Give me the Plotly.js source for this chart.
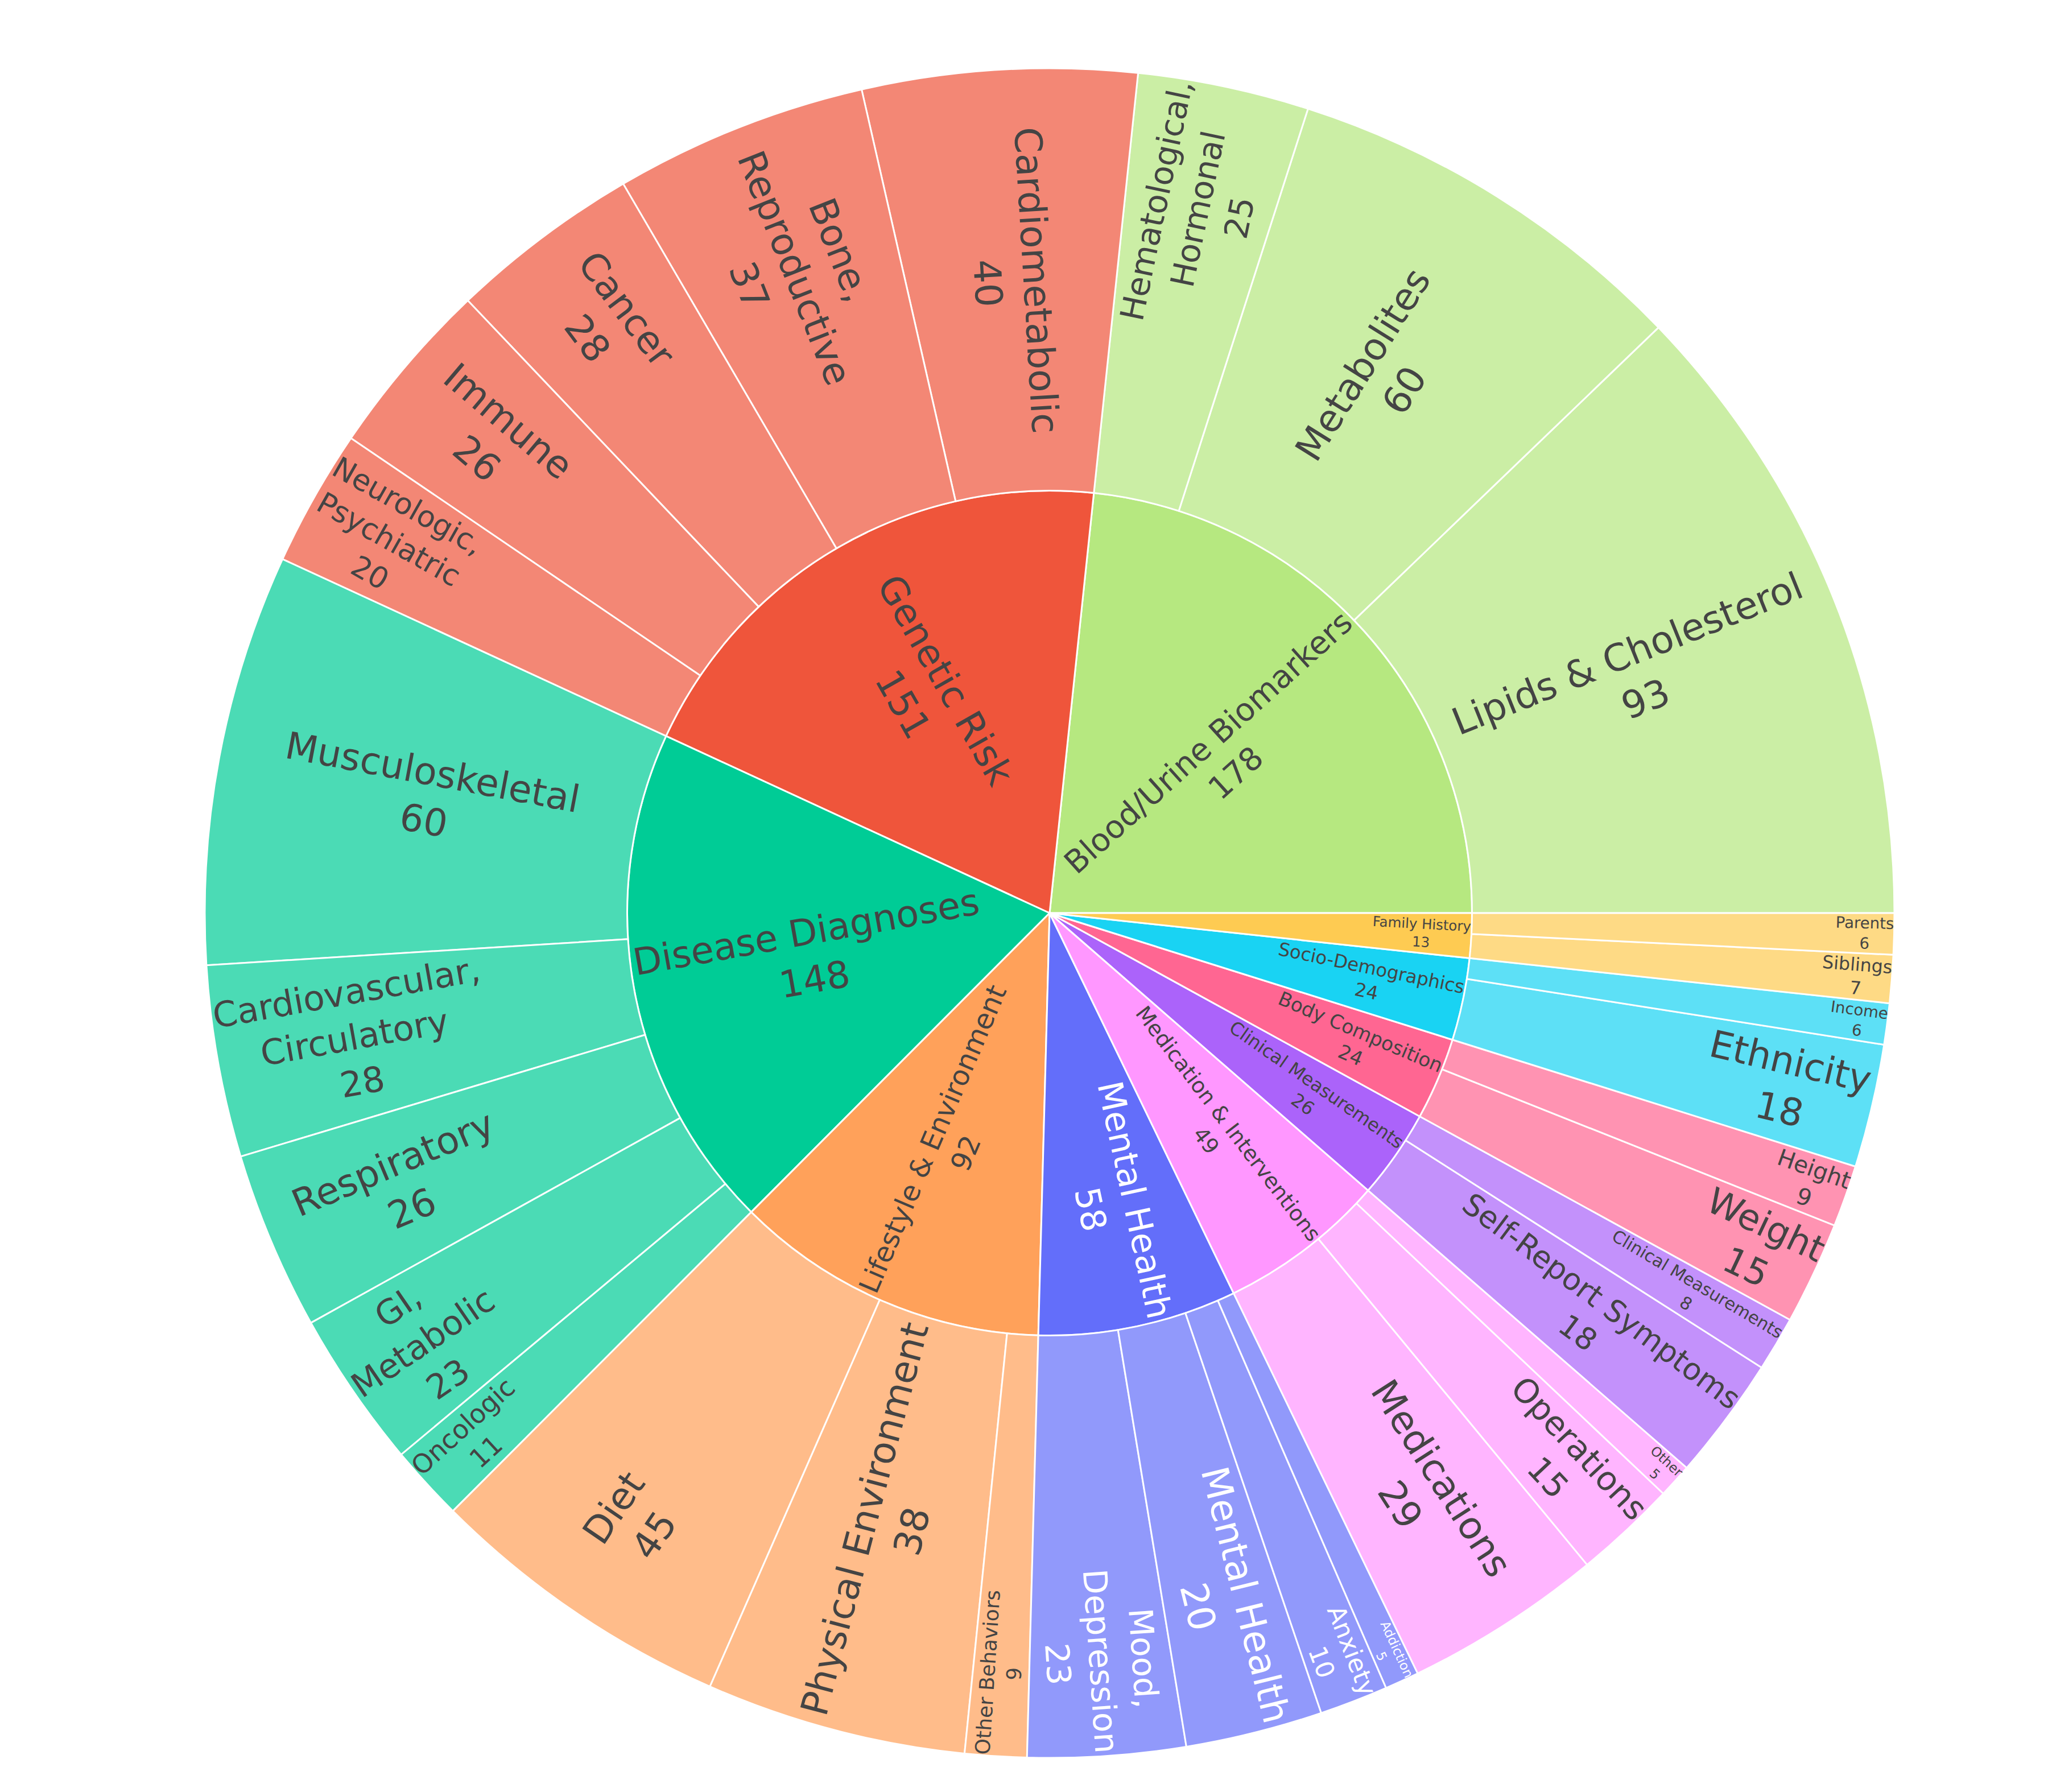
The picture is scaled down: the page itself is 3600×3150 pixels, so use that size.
<!DOCTYPE html>
<html>
<head>
<meta charset="utf-8">
<script src="https://cdn.plot.ly/plotly-3.0.1.min.js"></script>
<style>
  body { margin: 0; background: #fff; }
  #chart { width: 3600px; height: 3150px; }
</style>
</head>
<body>
<div id="chart"></div>
<script>
// top level groups
var groups = ['Blood/Urine Biomarkers', 'Genetic Risk', 'Disease Diagnoses', 'Lifestyle & Environment',
    'Mental Health', 'Medication & Interventions', 'Clinical Measurements', 'Body Composition',
    'Socio-Demographics', 'Family History'];
var groupColors = ['#B6E880', '#EF553B', '#00CC96', '#FFA15A', '#636EFA', '#FF97FF', '#AB63FA',
    '#FF6692', '#19D3F3', '#FECB52'];

// sub categories, one list per group
var bloodLabels = ['Lipids & Cholesterol', 'Metabolites', 'Hematological,<br>Hormonal'];
var bloodValues = [93, 60, 25];
var geneticLabels = ['Cardiometabolic', 'Bone,<br>Reproductive', 'Cancer', 'Immune', 'Neurologic,<br>Psychiatric'];
var geneticValues = [40, 37, 28, 26, 20];
var diseaseLabels = ['Musculoskeletal', 'Cardiovascular,<br>Circulatory', 'Respiratory', 'GI,<br>Metabolic', 'Oncologic'];
var diseaseValues = [60, 28, 26, 23, 11];
var lifestyleLabels = ['Diet', 'Physical Environment', 'Other Behaviors'];
var lifestyleValues = [45, 38, 9];
var mentalLabels = ['Mood,<br>Depression', 'Mental Health', 'Anxiety', 'Addiction'];
var mentalValues = [23, 20, 10, 5];
var medicationLabels = ['Medications', 'Operations', 'Other'];
var medicationValues = [29, 15, 5];
var clinicalLabels = ['Self-Report Symptoms', 'Clinical Measurements'];
var clinicalValues = [18, 8];
var bodyLabels = ['Weight', 'Height'];
var bodyValues = [15, 9];
var socioLabels = ['Ethnicity', 'Income'];
var socioValues = [18, 6];
var familyLabels = ['Siblings', 'Parents'];
var familyValues = [7, 6];

var childLabels = [bloodLabels, geneticLabels, diseaseLabels, lifestyleLabels, mentalLabels,
    medicationLabels, clinicalLabels, bodyLabels, socioLabels, familyLabels];
var childValues = [bloodValues, geneticValues, diseaseValues, lifestyleValues, mentalValues,
    medicationValues, clinicalValues, bodyValues, socioValues, familyValues];

var ids = [], labels = [], parents = [], values = [], colors = [];
groups.forEach(function (g, i) {
    var total = childValues[i].reduce(function (a, b) { return a + b; }, 0);
    ids.push(g); labels.push(g); parents.push(''); values.push(total); colors.push(groupColors[i]);
    childLabels[i].forEach(function (c, j) {
        ids.push(g + '/' + c); labels.push(c); parents.push(g);
        values.push(childValues[i][j]); colors.push(groupColors[i]);
    });
});

var data = [{
    type: 'sunburst',
    ids: ids,
    labels: labels,
    parents: parents,
    values: values,
    branchvalues: 'total',
    textinfo: 'label+value',
    insidetextorientation: 'radial',
    marker: {
        colors: colors,
        line: { color: 'white', width: 3 }
    },
    leaf: { opacity: 0.7 },
    textfont: { family: 'DejaVu Sans', size: 66 }
}];

var layout = {
    width: 3600,
    height: 3150,
    margin: { t: 120, b: 60, l: 120, r: 30 },
    font: { family: 'DejaVu Sans', size: 36, color: '#444' },
    paper_bgcolor: 'white',
    showlegend: false
};

Plotly.newPlot('chart', data, layout, { displayModeBar: false });
</script>
</body>
</html>
